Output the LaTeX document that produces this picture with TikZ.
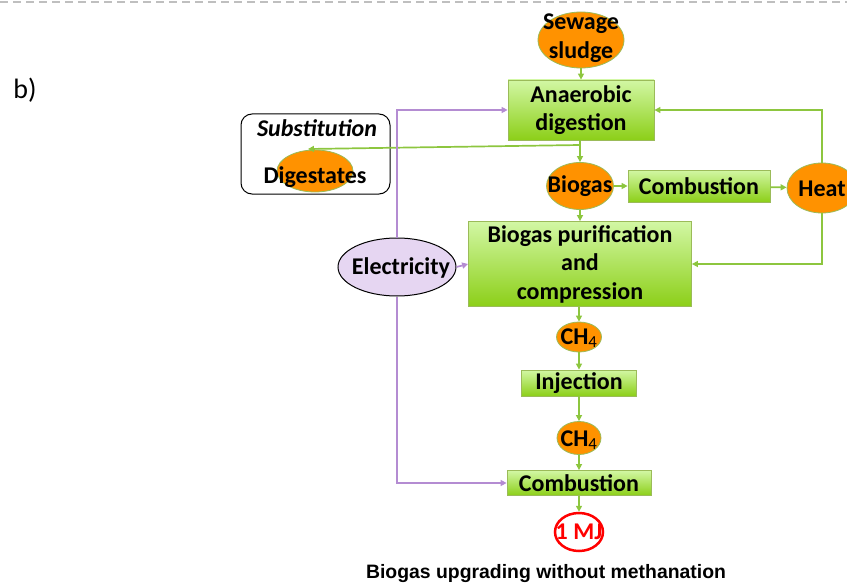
\documentclass[tikz,border=0pt]{standalone}
\usepackage{fontspec}
\setmainfont{Carlito}
\newfontfamily\arialf{Liberation Sans}
\usetikzlibrary{shapes.geometric,arrows.meta}
\definecolor{gline}{HTML}{8DC63F}
\definecolor{pline}{HTML}{B48CD2}
\definecolor{orfill}{HTML}{FF9200}
\definecolor{gborder}{HTML}{9BBB59}
\definecolor{gtop}{HTML}{D2F7A4}
\definecolor{gbot}{HTML}{8CCF18}
\definecolor{lav}{HTML}{E6D6F2}
\definecolor{mjred}{HTML}{FF0000}
\begin{document}
\begin{tikzpicture}[x=1pt,y=-1pt,
  lbl/.style={font=\fontsize{24}{28.5}\selectfont\bfseries, align=center, inner sep=0pt},
  gbox/.style={draw=gborder, line width=0.8pt, top color=gtop, bottom color=gbot, inner sep=0pt, align=center,
    font=\fontsize{24}{28.5}\selectfont\bfseries},
  oell/.style={ellipse, draw=gborder, line width=0.8pt, fill=orfill, inner sep=0pt},
  garrow/.style={draw=gline, line width=1.7pt, -{Triangle[length=6pt,width=6pt]}},
  parrow/.style={draw=pline, line width=1.7pt, -{Triangle[length=6pt,width=6pt]}}
]
\useasboundingbox (0,0) rectangle (847,586);
% top dashed rule
\draw[draw=black!25, line width=1.5pt, dash pattern=on 8pt off 5pt] (0,2) -- (847,2);
\node[font=\fontsize{28}{32}\selectfont, inner sep=0pt] (blabel) at (25,90) {b)};

% Substitution box
\node[draw=black, line width=1pt, rounded corners=11pt, minimum width=149pt, minimum height=80pt] (subbox) at (315.5,154) {};
\node[lbl, font=\fontsize{24}{28}\selectfont\bfseries\itshape] (subt) at (317,128) {Substitution};
\node[oell, minimum width=76pt, minimum height=42pt] (dig) at (315,171) {};
\node[lbl] (digt) at (315,177) {Digestates};

% main column
\node[oell, minimum width=86pt, minimum height=56pt] (ss) at (581,40) {};
\node[lbl] (sst) at (581,38) {Sewage\\sludge};
\node[gbox, minimum width=146pt, minimum height=60pt] (ad) at (581,110) {Anaerobic\\digestion};
\node[oell, minimum width=67pt, minimum height=47pt] (bg) at (580,186) {};
\node[lbl] (bgt) at (580,186) {Biogas};
\node[gbox, minimum width=142pt, minimum height=32pt] (comb1) at (699,186) {Combustion};
\node[oell, minimum width=70pt, minimum height=50pt] (heat) at (822,188) {};
\node[lbl] (heatt) at (822,189) {Heat};
\node[gbox, minimum width=223pt, minimum height=85pt] (pur) at (580,264) {Biogas purification\\and\\compression};
\node[ellipse, draw=black, line width=1pt, fill=lav, minimum width=118pt, minimum height=58pt, inner sep=0pt] (el) at (397,267) {};
\node[lbl] (elt) at (401,268) {Electricity};
\node[oell, minimum width=45pt, minimum height=30pt] (ch1) at (579,337) {};
\node[lbl] (ch1t) at (579,338) {CH\textsubscript{\normalfont 4}};
\node[gbox, minimum width=115pt, minimum height=26pt] (inj) at (579,383) {Injection};
\node[oell, minimum width=44pt, minimum height=33pt] (ch2) at (579,438) {};
\node[lbl] (ch2t) at (579,440) {CH\textsubscript{\normalfont 4}};
\node[gbox, minimum width=144pt, minimum height=25pt] (comb2) at (579,483) {Combustion};
\node[ellipse, draw=mjred, line width=2.5pt, fill=white, minimum width=48pt, minimum height=38pt, inner sep=0pt] (mj) at (579,532) {};
\node[lbl, text=mjred] (mjt) at (579,532) {1 MJ};

\node[font=\arialf\fontsize{19.4}{22}\selectfont\bfseries, inner sep=0pt] (cap) at (546,574) {Biogas upgrading without methanation};

% connectors
\draw[garrow] (ss) -- (ad);
\draw[garrow] (ad.south -| bg.north) -- (bg.north);
\coordinate (dj) at (580,145);
\coordinate (dtip) at (308,149);
\draw[garrow] (dj) -- (dtip);
\draw[garrow] (bg) -- (comb1);
\draw[garrow] (comb1) -- (heat);
\draw[garrow] (heat.north) |- (ad.east);
\draw[garrow] (heat.south) |- (pur.east);
\draw[garrow] (bg) -- (pur);
\draw[garrow] (pur.south -| ch1.north) -- (ch1.north);
\draw[garrow] (ch1) -- (inj);
\draw[garrow] (inj) -- (ch2);
\draw[garrow] (ch2) -- (comb2);
\draw[garrow] (comb2) -- (mj);
\draw[parrow] (el.north) |- (ad.west);
\draw[parrow] (el.east) -- (pur.west);
\draw[parrow] (el.south) |- (comb2.west);
\end{tikzpicture}
\end{document}
